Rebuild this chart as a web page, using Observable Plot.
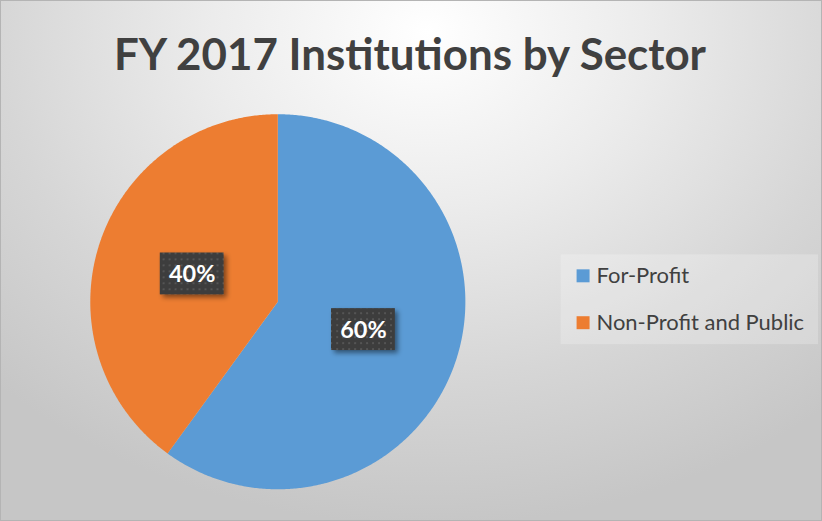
<!DOCTYPE html>
<html>
<head>
<meta charset="utf-8">
<script src="https://cdn.jsdelivr.net/npm/d3@7"></script>
<script src="https://cdn.jsdelivr.net/npm/@observablehq/plot@0.6"></script>
<style>
  html, body { margin: 0; padding: 0; background: #fff; }
  #chart {
    position: relative; width: 822px; height: 521px; box-sizing: border-box;
    border: 1px solid #b4b4b4;
    background: radial-gradient(ellipse 75% 95% at 52% 6%, #ffffff 0%, #ececec 35%, #d6d6d6 70%, #c6c6c6 100%);
    overflow: hidden;
  }
  #chart svg { position: absolute; left: -1px; top: -1px; background: transparent; }
</style>
</head>
<body>
<div id="chart"></div>
<script>
const title = "FY 2017 Institutions by Sector";
const categories = ["For-Profit", "Non-Profit and Public"];
const values = [60, 40];
const colors = ["#5B9BD5", "#ED7D31"];

const W = 822, H = 521;
const total = d3.sum(values);
// angles clockwise from 12 o'clock
let acc = 0;
const slices = categories.map((c, i) => {
  const a0 = acc / total * 2 * Math.PI;
  acc += values[i];
  const a1 = acc / total * 2 * Math.PI;
  return {category: c, value: values[i], a0, a1, pct: Math.round(values[i] / total * 100) + "%"};
});

// polygon vertices on unit circle for each slice
const pts = [];
slices.forEach(s => {
  pts.push({category: s.category, x: 0, y: 0});
  const n = Math.max(2, Math.ceil((s.a1 - s.a0) / (Math.PI / 360)));
  for (let k = 0; k <= n; k++) {
    const a = s.a0 + (s.a1 - s.a0) * k / n;
    pts.push({category: s.category, x: Math.sin(a), y: Math.cos(a)});
  }
  pts.push({category: s.category, x: 0, y: 0});
});

const labelR = 0.48;
const labels = slices.map(s => {
  const m = (s.a0 + s.a1) / 2;
  return {...s, x: labelR * Math.sin(m), y: labelR * Math.cos(m)};
});
const bw = 32 / 188, bh = 21 / 188;

// pie: center (278, 302), radius 188
const R = 188, cx = 278, cy = 302;

const plot = Plot.plot({
  width: W, height: H,
  margin: 0,
  x: {domain: [-1, 1], range: [cx - R, cx + R], axis: null},
  y: {domain: [-1, 1], range: [cy + R, cy - R], axis: null},
  color: {domain: categories, range: colors},
  style: {background: "transparent", overflow: "visible"},
  marks: [
    Plot.line(pts, {x: "x", y: "y", z: "category", fill: "category", stroke: "none", curve: "linear"}),
    Plot.rect(labels, {x1: d => d.x - bw, x2: d => d.x + bw, y1: d => d.y - bh, y2: d => d.y + bh,
      fill: "url(#lblpat)", className: "lblbox"}),
    Plot.text(labels, {x: "x", y: "y", text: "pct", fill: "#ffffff", fontSize: 23.5, fontWeight: "bold",
      fontFamily: "Lato", dy: 1}),
  ]
});

// defs: dotted dark pattern + shadow
const svg = d3.select(plot);
const defs = svg.insert("defs", ":first-child");
const pat = defs.append("pattern").attr("id", "lblpat").attr("patternUnits", "userSpaceOnUse")
  .attr("width", 6).attr("height", 6);
pat.append("rect").attr("width", 6).attr("height", 6).attr("fill", "#3c3c3c");
pat.append("rect").attr("x", 1).attr("y", 1).attr("width", 2).attr("height", 2).attr("fill", "#555555");
const f = defs.append("filter").attr("id", "shadow").attr("x", "-30%").attr("y", "-30%").attr("width", "160%").attr("height", "160%");
f.append("feDropShadow").attr("dx", 3).attr("dy", 3).attr("stdDeviation", 2.5).attr("flood-color", "#000").attr("flood-opacity", 0.45);
svg.selectAll(".lblbox rect").attr("filter", "url(#shadow)");

// title
svg.append("text").attr("x", 411).attr("y", 70).attr("text-anchor", "middle")
  .attr("font-family", "Lato").attr("font-weight", "bold").attr("font-size", 44)
  .attr("fill", "#404040").text(title);

// legend
const lg = svg.append("g").attr("text-anchor", "start");
lg.append("rect").attr("x", 562).attr("y", 255).attr("width", 258).attr("height", 90)
  .attr("fill", "#ffffff").attr("fill-opacity", 0.22);
categories.forEach((c, i) => {
  const y = 270 + i * 47;
  lg.append("rect").attr("x", 578).attr("y", y).attr("width", 13).attr("height", 13).attr("fill", colors[i]);
  lg.append("text").attr("x", 598).attr("y", y + 14).attr("text-anchor", "start")
    .attr("font-family", "Lato").attr("font-size", 22)
    .attr("fill", "#404040").text(c);
});

document.getElementById("chart").appendChild(plot);
</script>
</body>
</html>
